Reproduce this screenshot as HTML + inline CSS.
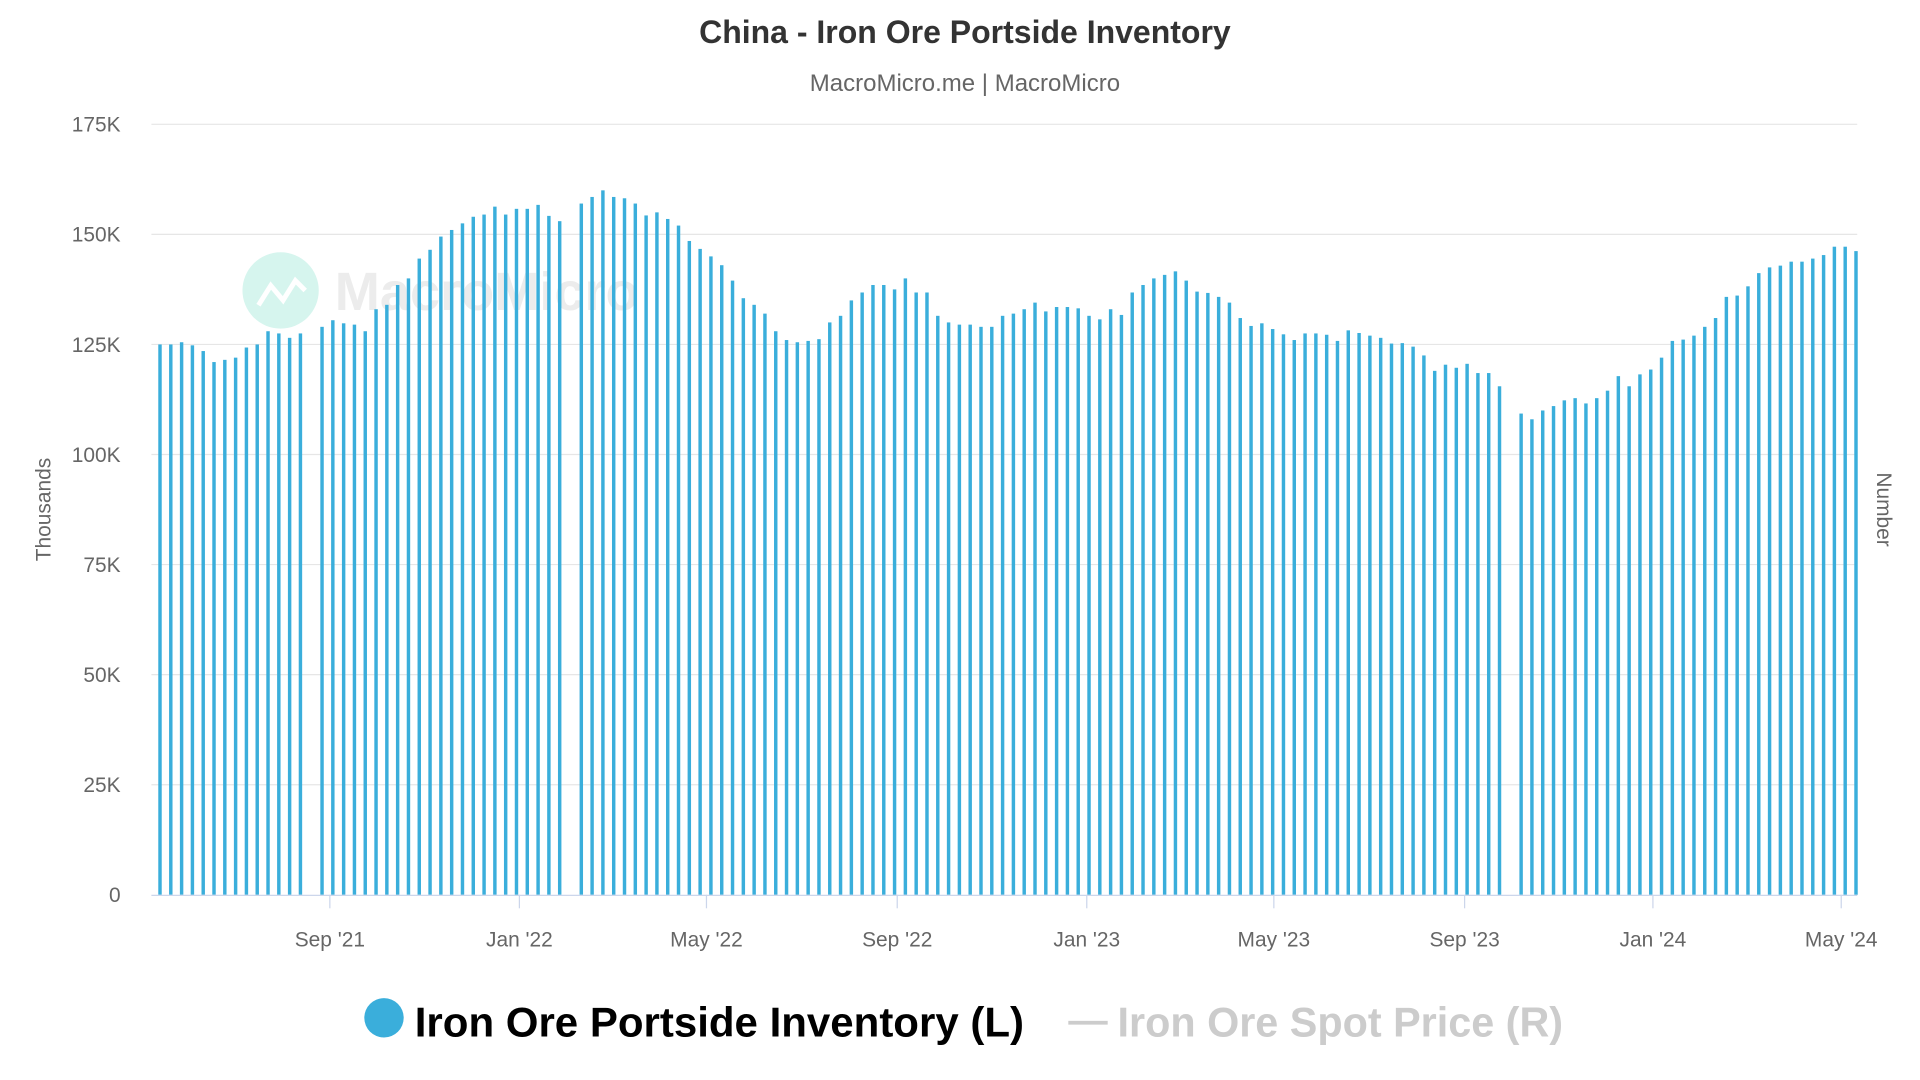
<!DOCTYPE html>
<html><head><meta charset="utf-8"><style>
html,body{margin:0;padding:0;background:#fff;width:1920px;height:1080px;overflow:hidden}
svg{display:block;font-family:"Liberation Sans",sans-serif}
</style></head><body>
<svg id="c" width="1920" height="1080" viewBox="0 0 1560 877.5" xmlns="http://www.w3.org/2000/svg">
<text x="784" y="35" text-anchor="middle" font-size="26" font-weight="bold" fill="#333">China - Iron Ore Portside Inventory</text>
<text x="784" y="74" text-anchor="middle" font-size="19.5" fill="#666">MacroMicro.me | MacroMicro</text>
<g id="grid"></g>
<circle cx="228" cy="236" r="31" fill="#d6f5ee"/>
<polyline points="210,248 220,232 230,244 240,228 248,236" fill="none" stroke="#fff" stroke-width="4"/>
<text x="272" y="252" font-size="44" font-weight="bold" fill="#ececec">MacroMicro</text>
<g id="bars"></g>
<line x1="123" y1="727.5" x2="1509" y2="727.5" stroke="#ccd6eb" stroke-width="1"/>
<g id="xt"></g>
<text transform="translate(41,414) rotate(-90)" text-anchor="middle" font-size="17" fill="#666">Thousands</text>
<text transform="translate(1525,414) rotate(90)" text-anchor="middle" font-size="17" fill="#666">Number</text>
<circle cx="312" cy="827" r="16" fill="#3aaedb"/>
<text x="337" y="842" font-size="34" font-weight="bold" fill="#000" textLength="495" lengthAdjust="spacingAndGlyphs">Iron Ore Portside Inventory (L)</text>
<line x1="868" y1="831" x2="900" y2="831" stroke="#ccc" stroke-width="3"/>
<text x="908" y="842" font-size="34" font-weight="bold" fill="#ccc" textLength="362" lengthAdjust="spacingAndGlyphs">Iron Ore Spot Price (R)</text>
</svg>
<script>
var ns="http://www.w3.org/2000/svg";
function el(t,a,txt){var e=document.createElementNS(ns,t);for(var k in a)e.setAttribute(k,a[k]);if(txt)e.textContent=txt;return e;}
var g=document.getElementById('grid');
for(var i=0;i<=7;i++){var y=727-i*626/7;
 if(i>0)g.appendChild(el('line',{x1:123,x2:1509,y1:y,y2:y,stroke:'#e6e6e6','stroke-width':1}));
 g.appendChild(el('text',{x:98,y:y+6,'text-anchor':'end','font-size':17,fill:'#666'},i==0?'0':(i*25)+'K'));}
var v=[125,125,125.5,124.8,123.5,121,121.5,122,124.3,125,128,127.5,126.5,127.5,null,129,130.5,129.8,129.5,128,133,134,138.5,140,144.5,146.5,149.5,151,152.5,154,154.5,156.3,154.5,155.8,155.8,156.7,154.2,153,null,157,158.5,160,158.5,158.2,157,154.3,155,153.5,152,148.5,146.7,145,143,139.5,135.5,134,132,128,126,125.5,125.8,126.2,130,131.5,135,136.8,138.5,138.5,137.5,140,136.8,136.8,131.5,130,129.5,129.5,129,129,131.5,132,133,134.5,132.5,133.5,133.5,133.2,131.5,130.7,133,131.7,136.8,138.5,140,140.8,141.6,139.5,137,136.7,135.8,134.5,131,129.2,129.8,128.5,127.3,126,127.5,127.5,127.2,125.8,128.2,127.6,127,126.5,125.2,125.3,124.5,122.5,119,120.4,119.7,120.6,118.5,118.5,115.5,null,109.3,108,110,111,112.3,112.8,111.6,112.8,114.5,117.8,115.5,118.2,119.3,122,125.8,126.1,127,129,131,135.8,136.1,138.2,141.2,142.5,142.9,143.8,143.8,144.5,145.3,147.2,147.2,146.2];
var b=document.getElementById('bars'),n=v.length,sp=(1508-130)/(n-1);
for(var i=0;i<n;i++){if(v[i]==null)continue;var x=130+i*sp,y=727-v[i]*1000/175000*626;
 b.appendChild(el('rect',{x:x-1.4,y:y,width:2.8,height:727-y,fill:'#3aaedb'}));}
var xt=document.getElementById('xt');
[[268,"Sep '21"],[422,"Jan '22"],[574,"May '22"],[729,"Sep '22"],[883,"Jan '23"],[1035,"May '23"],[1190,"Sep '23"],[1343,"Jan '24"],[1496,"May '24"]].forEach(function(t){
 xt.appendChild(el('line',{x1:t[0],x2:t[0],y1:727,y2:738,stroke:'#ccd6eb'}));
 xt.appendChild(el('text',{x:t[0],y:769,'text-anchor':'middle','font-size':17,fill:'#666'},t[1]));});
</script>
</body></html>
